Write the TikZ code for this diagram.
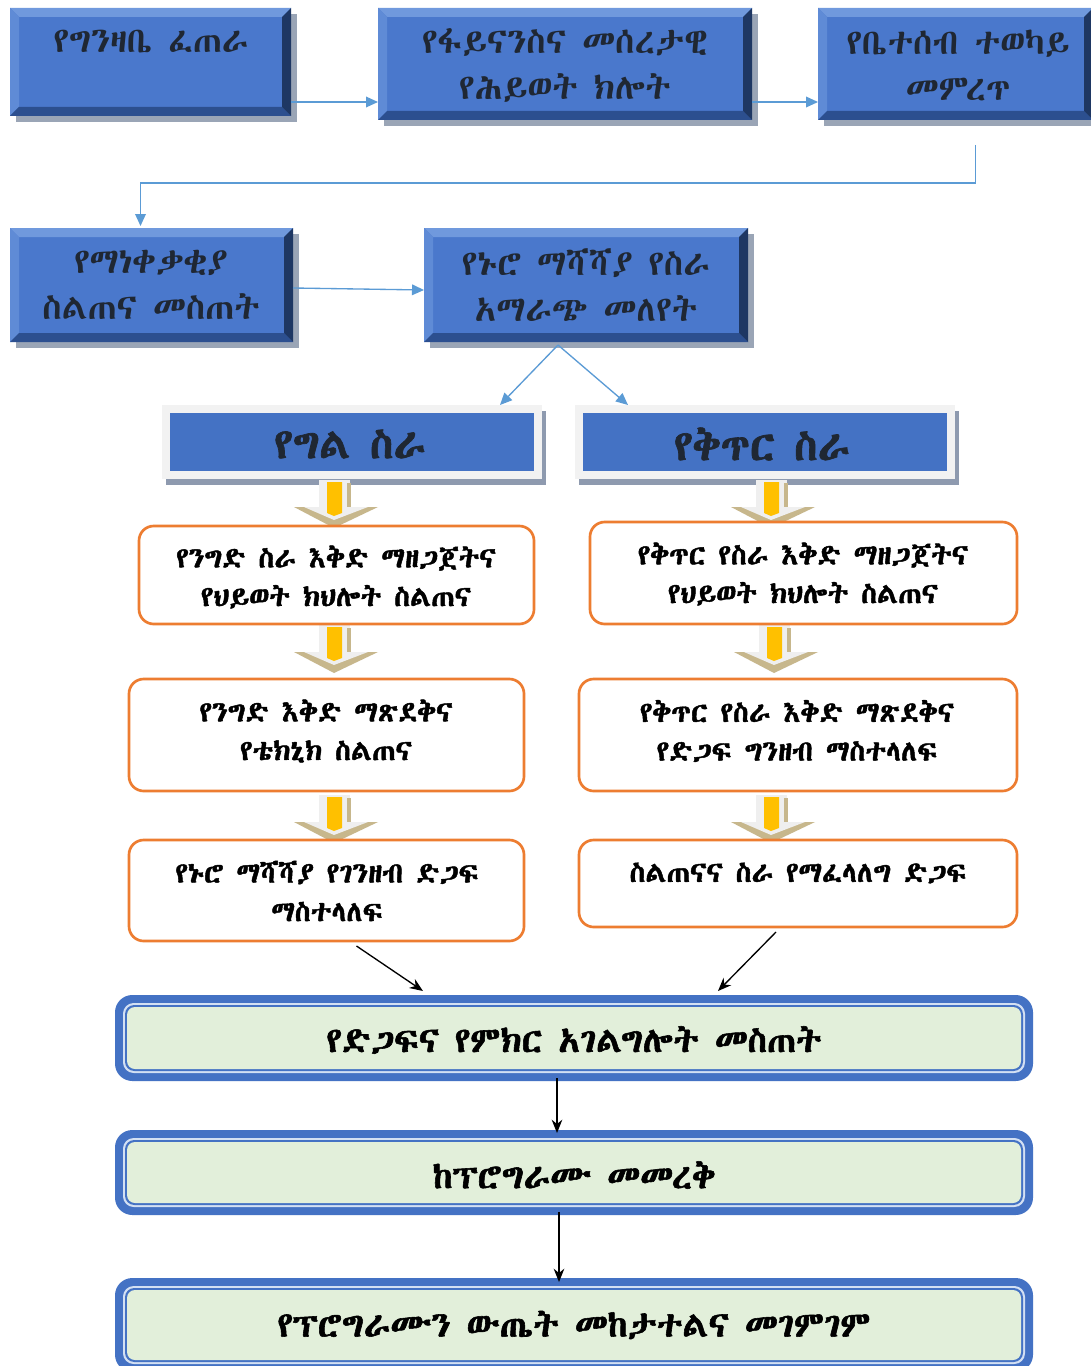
\documentclass[tikz,border=0pt]{standalone}
\usepackage{fontspec}
\usetikzlibrary{calc,arrows.meta,fit}
\IfFontExistsTF{Abyssinica SIL}{\newfontfamily\ethi{Abyssinica SIL}\newfontfamily\ethib[FakeBold=1.6]{Abyssinica SIL}}{%
  \IfFontExistsTF{FreeSerif}{\newfontfamily\ethi{FreeSerif}\newfontfamily\ethib[FakeBold=1.6]{FreeSerif}}{%
   \IfFontExistsTF{FreeSans}{\newfontfamily\ethi{FreeSans}\newfontfamily\ethib[FakeBold=1.6]{FreeSans}}{%
   \newfontfamily\ethi{DejaVu Sans}\newfontfamily\ethib{DejaVu Sans Bold}}}}
\definecolor{bmain}{HTML}{4A78CC}
\definecolor{btop}{HTML}{7099DD}
\definecolor{bleft}{HTML}{5F8BD6}
\definecolor{bbot}{HTML}{2C4F8F}
\definecolor{bright}{HTML}{1E3763}
\definecolor{bshadow}{HTML}{9AA5B6}
\definecolor{conn}{HTML}{5B9BD5}
\definecolor{hblue}{HTML}{4472C4}
\definecolor{hframe}{HTML}{F2F2F2}
\definecolor{hshadow}{HTML}{8E9AAF}
\definecolor{orng}{HTML}{ED7D31}
\definecolor{gfill}{HTML}{E2EFDA}
\definecolor{dblue}{HTML}{4472C4}
\definecolor{dlight}{HTML}{D3E0F3}
\definecolor{tan}{HTML}{C7B78C}
\definecolor{agrey}{HTML}{EFEFEF}
\definecolor{yel}{HTML}{FFC000}
\definecolor{htext}{HTML}{1F2733}
\newcommand\mybevel[1]{%
 \fill[bshadow] ($(#1.north west)+(6,6)$) rectangle ($(#1.south east)+(6,6)$);
 \fill[bmain] (#1.north west) rectangle (#1.south east);
 \fill[btop] (#1.north west) -- (#1.north east) -- ($(#1.north east)+(-9,9)$) -- ($(#1.north west)+(9,9)$) -- cycle;
 \fill[bleft] (#1.north west) -- ($(#1.north west)+(9,9)$) -- ($(#1.south west)+(9,-9)$) -- (#1.south west) -- cycle;
 \fill[bbot] (#1.south west) -- ($(#1.south west)+(9,-9)$) -- ($(#1.south east)+(-9,-9)$) -- (#1.south east) -- cycle;
 \fill[bright] (#1.north east) -- ($(#1.north east)+(-9,9)$) -- ($(#1.south east)+(-9,-9)$) -- (#1.south east) -- cycle;
}
\newcommand\myheader[1]{%
 \fill[hshadow] ($(#1.north west)+(4,6)$) rectangle ($(#1.south east)+(4,6)$);
 \fill[hframe] (#1.north west) rectangle (#1.south east);
 \fill[hblue] ($(#1.north west)+(8,8)$) rectangle ($(#1.south east)+(-8,-8)$);
}
\newcommand\mydbl[1]{%
 \fill[dblue, rounded corners=13pt] (#1.north west) rectangle (#1.south east);
 \fill[dlight, rounded corners=8pt] ($(#1.north west)+(8,8)$) rectangle ($(#1.south east)+(-8,-8)$);
 \fill[dblue, rounded corners=7pt] ($(#1.north west)+(10,10)$) rectangle ($(#1.south east)+(-10,-10)$);
 \fill[gfill, rounded corners=6pt] ($(#1.north west)+(12,12)$) rectangle ($(#1.south east)+(-12,-12)$);
}
\newcommand\mydown[2]{% x, ytop
 \fill[agrey] (#1-15,#2) rectangle (#1+16,#2+28);
 \fill[tan] (#1+13,#2+3) rectangle (#1+17,#2+28);
 \fill[tan] (#1-40,#2+27) -- (#1+44,#2+27) -- (#1,#2+48) -- cycle;
 \fill[agrey] (#1-30,#2+27) -- (#1+34,#2+27) -- (#1,#2+40) -- cycle;
 \fill[yel] (#1-7,#2+2) -- (#1+8,#2+2) -- (#1+8,#2+33) -- (#1,#2+36) -- (#1-7,#2+33) -- cycle;
}
\begin{document}
\begin{tikzpicture}[x=0.75pt,y=-0.75pt,
  frame/.style={inner sep=0pt, outer sep=0pt, draw=none},
  btext/.style={text=htext, align=center, font={\ethi\fontsize{26.5}{34.5}\selectfont}},
  htxt/.style={text=htext, font={\ethib\fontsize{32}{34}\selectfont}},
  otext/.style={text=black, align=center, font={\ethib\fontsize{21.5}{29}\selectfont}},
  gtext/.style={text=black, font={\ethib\fontsize{26.5}{28}\selectfont}},
  obox/.style={draw=orng, line width=2pt, fill=white, rounded corners=11pt},
  bline/.style={draw=conn, line width=1pt, -{Triangle[length=9pt,width=8pt]}},
  kline/.style={draw=black, line width=1pt, -{Stealth[length=10pt,width=8pt]}},
]
\useasboundingbox (0,0) rectangle (1091,1366);
\fill[white] (0,0) rectangle (1091,1366);

% top bevel boxes
\node[frame, fit={(10,8) (291,116)}] (b1) {};
\node[frame, fit={(378,8) (752,120)}] (b2) {};
\node[frame, fit={(818,8) (1093,120)}] (b3) {};
\node[frame, fit={(10,228) (293,342)}] (b4) {};
\node[frame, fit={(424,228) (748,342)}] (b5) {};
\mybevel{b1}\mybevel{b2}\mybevel{b3}\mybevel{b4}\mybevel{b5}
\node[btext] (t1) at (151,42) {የግንዛቤ ፈጠራ};
\node[btext] (t2) at (565,65) {የፋይናንስና መሰረታዊ\\የሕይወት ክሎት};
\node[btext] (t3) at (958,65) {የቤተሰብ ተወካይ\\መምረጥ};
\node[btext] (t4) at (151,285) {የማነቀቃቂያ\\ስልጠና መስጠት};
\node[btext] (t5) at (586,285) {የኑሮ ማሻሻያ የስራ\\አማራጭ መለየት};

% connectors top
\draw[bline] ($(b1.south east)+(0,-14)$) -- ($(b2.south west)+(0,-18)$);
\draw[bline] ($(b2.south east)+(0,-18)$) -- ($(b3.south west)+(0,-18)$);
\draw[bline] ($(b3.south)+(20,25)$) |- ($(b4.north)+(-11,-45)$) -- ($(b4.north)+(-11,-2)$);
\draw[bline] ($(b4.east)+(0,3)$) -- ($(b5.west)+(0,5)$);

% headers
\node[frame, fit={(162,405) (542,479)}] (h1) {};
\node[frame, fit={(575,405) (955,479)}] (h2) {};
\myheader{h1}\myheader{h2}
\node[htxt] (ht1) at (350,444) {የግል ስራ};
\node[htxt] (ht2) at (762,444) {የቅጥር ስራ};
\draw[bline] ($(b5.south)+(-28,3)$) -- ($(h1.north east)+(-42,0)$);
\draw[bline] ($(b5.south)+(-28,3)$) -- ($(h2.north west)+(53,0)$);

% block arrows
\mydown{334}{480}
\mydown{334}{625}
\mydown{334}{795}
\mydown{771}{480}
\mydown{774}{625}
\mydown{771}{795}

% orange boxes
\node[frame, fit={(139,526) (534,624)}] (l1) {};
\node[frame, fit={(129,679) (524,791)}] (l2) {};
\node[frame, fit={(129,840) (524,941)}] (l3) {};
\node[frame, fit={(590,522) (1017,624)}] (r1) {};
\node[frame, fit={(579,679) (1017,791)}] (r2) {};
\node[frame, fit={(579,840) (1017,927)}] (r3) {};
\foreach \n in {l1,l2,l3,r1,r2,r3} {\draw[obox] (\n.north west) rectangle (\n.south east);}
\node[otext] (ol1) at (336,577) {የንግድ ስራ እቅድ ማዘጋጀትና\\የህይወት ክህሎት ስልጠና};
\node[otext] (ol2) at (326,731) {የንግድ እቅድ ማጽደቅና\\የቴክኒክ ስልጠና};
\node[otext] (ol3) at (327,891) {የኑሮ ማሻሻያ የገንዘብ ድጋፍ\\ማስተላለፍ};
\node[otext] (or1) at (803,574) {የቅጥር የስራ እቅድ ማዘጋጀትና\\የህይወት ክህሎት ስልጠና};
\node[otext] (or2) at (797,731) {የቅጥር የስራ እቅድ ማጽደቅና\\የድጋፍ ግንዘብ ማስተላለፍ};
\node[otext] (or3) at (798,873) {ስልጠናና ስራ የማፈላለግ ድጋፍ};

% bottom boxes
\node[frame, fit={(115,995) (1033,1081)}] (c1) {};
\node[frame, fit={(115,1130) (1033,1215)}] (c2) {};
\node[frame, fit={(115,1278) (1033,1372)}] (c3) {};
\mydbl{c1}\mydbl{c2}\mydbl{c3}
\node[gtext] (g1) at (574,1040) {የድጋፍና የምክር አገልግሎት መስጠት};
\node[gtext] (g2) at (574,1175) {ከፕሮግራሙ መመረቅ};
\node[gtext] (g3) at (574,1325) {የፕሮግራሙን ውጤት መከታተልና መገምገም};

\draw[kline] ($(l3.south)+(30,5)$) -- ($(c1.north)+(-151,-4)$);
\draw[kline] ($(r3.south)+(-22,5)$) -- ($(c1.north)+(144,-4)$);
\draw[kline] ($(c1.south)+(-17,-3)$) -- ($(c2.north)+(-17,3)$);
\draw[kline] ($(c2.south)+(-15,-3)$) -- ($(c3.north)+(-15,4)$);
\end{tikzpicture}
\end{document}
